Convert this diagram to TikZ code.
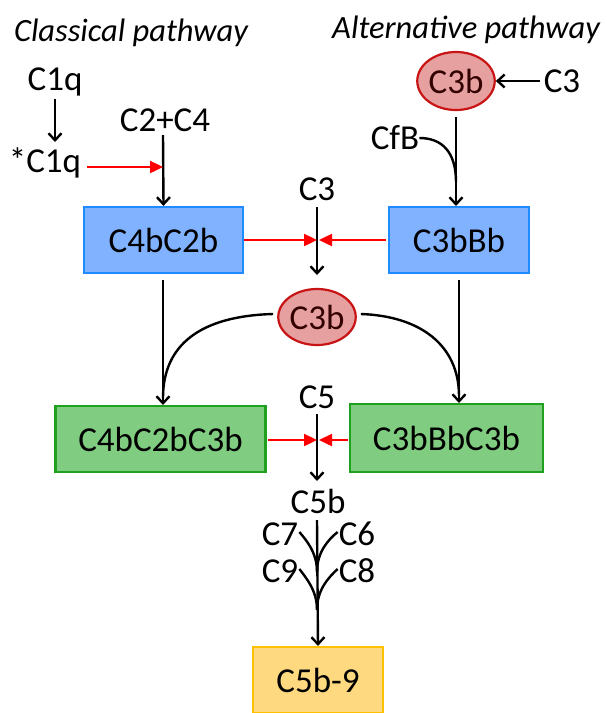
\documentclass[tikz,border=0pt]{standalone}
\usepackage{fontspec}
\setmainfont{Carlito}
\usetikzlibrary{arrows.meta,shapes.geometric}
\definecolor{bluefill}{HTML}{80B2FF}
\definecolor{blueline}{HTML}{1E8CFF}
\definecolor{greenfill}{HTML}{80CC80}
\definecolor{greenline}{HTML}{1FA01F}
\definecolor{yellowfill}{HTML}{FFD97F}
\definecolor{yellowline}{HTML}{FFC000}
\definecolor{redfill}{HTML}{E6A0A0}
\definecolor{redline}{HTML}{C81414}
\definecolor{arrred}{HTML}{FF0000}
\begin{document}
\begin{tikzpicture}[x=1pt,y=-1pt,
  lbl/.style={font=\fontsize{35}{40}\selectfont, inner sep=0pt},
  ttl/.style={font=\fontsize{32.5}{38}\selectfont\itshape, inner sep=0pt},
  boxb/.style={draw=blueline, fill=bluefill, line width=2.2pt, font=\fontsize{35}{40}\selectfont, inner sep=0pt},
  boxg/.style={draw=greenline, fill=greenfill, line width=2.2pt, font=\fontsize{35}{40}\selectfont, inner sep=0pt},
  boxy/.style={draw=yellowline, fill=yellowfill, line width=2.2pt, font=\fontsize{35}{40}\selectfont, inner sep=0pt},
  oval/.style={ellipse, draw=redline, fill=redfill, line width=2.2pt, font=\fontsize{35}{40}\selectfont, inner sep=0pt, text=black!80!red},
  blk/.style={line width=2.4pt, -{Straight Barb[length=7pt,width=13pt]}},
  blkline/.style={line width=2.4pt},
  redarr/.style={line width=2.4pt, draw=arrred, -{Triangle[length=13pt,width=12pt]}, color=arrred}
]
\useasboundingbox (0,0) rectangle (606,713);

% titles
\node[ttl] (tcl) at (131,33) {Classical pathway};
\node[ttl] (tal) at (466,30) {Alternative pathway};

% classical
\node[lbl] (c1q) at (55,82) {C1q};
\node[lbl] (sc1q) at (45,163) {*C1q};
\node[lbl] (c2c4) at (165,120) {C2+C4};
\node[boxb, minimum width=159pt, minimum height=66pt] (c4bc2b) at (163.5,240) {C4bC2b};

% alternative
\node[oval, minimum width=64pt, minimum height=58pt] (c3bt) at (456,81) {C3b};
\node[lbl] (c3t) at (562,81) {C3};
\node[lbl] (cfb) at (395,138) {CfB};
\node[boxb, minimum width=140pt, minimum height=66pt] (c3bbb) at (459,240) {C3bBb};

% middle
\node[lbl] (c3m) at (317,189) {C3};
\node[oval, minimum width=68pt, minimum height=56pt] (c3bm) at (317,317) {C3b};
\node[lbl] (c5) at (317,397) {C5};
\node[boxg, minimum width=210pt, minimum height=66pt] (g1) at (160.5,439) {C4bC2bC3b};
\node[boxg, minimum width=193pt, minimum height=68pt] (g2) at (446.5,438) {C3bBbC3b};
\node[lbl] (c5b) at (318,501) {C5b};
\node[lbl] (c7) at (280,534) {C7};
\node[lbl] (c6) at (357,534) {C6};
\node[lbl] (c9) at (280,571) {C9};
\node[lbl] (c8) at (357,571) {C8};
\node[boxy, minimum width=130pt, minimum height=66pt] (c5b9) at (318,680) {C5b-9};

% coordinates
\coordinate (j1) at (163,167);
\coordinate (j2) at (317,240);
\coordinate (j3) at (317,440);
\coordinate (m1) at (456,182);
\coordinate (m2) at (317,572);
\coordinate (m3) at (317,610);

% classical arrows
\draw[blk] (55,99) -- (55,142);
\draw[blk] (163,135) -- (c4bc2b.north);
\draw[redarr] (sc1q.east) ++(6,4) -- (j1);

% alternative arrows
\draw[blk] (c3t.west) ++(-4,0) -- (c3bt.east);
\draw[blk] (456,117) -- (456,206);
\draw[blkline] (cfb.east) .. controls (442,138) and (456,152) .. (m1);

% middle C3
\draw[blk] (317,207) -- (317,275);
\draw[redarr] (c4bc2b.east) -- (j2);
\draw[redarr] (c3bbb.west) ++(-2,0) -- (319,240);

% vertical to green
\draw[blk] (163,280) -- (163,405);
\draw[blk] (459,280) -- (459,403);
\draw[blkline] (c3bm.west) ++(-4,-3) .. controls (200,316) and (163,345) .. (163,398);
\draw[blkline] (c3bm.east) ++(4,-3) .. controls (420,316) and (459,345) .. (459,396);

% C5
\draw[blk] (317,414) -- (317,481);
\draw[redarr] (g1.east) ++(1,1) -- (j3);
\draw[redarr] (g2.west) ++(-1,2) -- (319,440);

% C5b to MAC
\draw[blk] (317,520) -- (c5b9.north);
\draw[blkline] (c7.east) ++(1,-2) .. controls (306,540) and (317,552) .. (m2);
\draw[blkline] (c6.west) ++(-1,-2) .. controls (328,540) and (317,552) .. (m2);
\draw[blkline] (c9.east) ++(1,-2) .. controls (306,578) and (317,590) .. (m3);
\draw[blkline] (c8.west) ++(-1,-2) .. controls (328,578) and (317,590) .. (m3);
\end{tikzpicture}
\end{document}
